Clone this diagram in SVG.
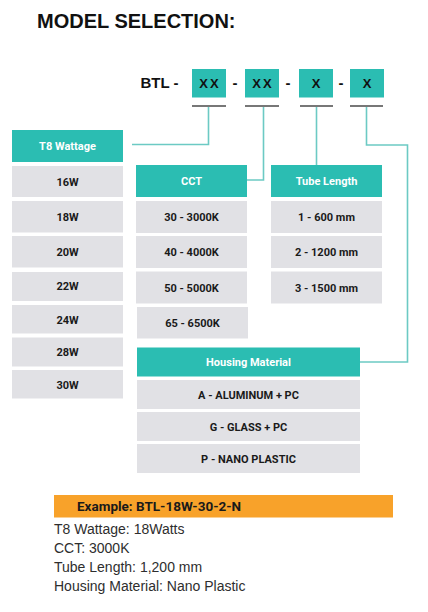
<svg xmlns="http://www.w3.org/2000/svg" width="428" height="612" viewBox="0 0 428 612">
<style>
.hd{fill:#2bbdb2}
.row{fill:#e1e1e5}
.ht{font-family:Roboto,"Liberation Sans",sans-serif;font-weight:700;font-size:11px;fill:#ffffff;text-anchor:middle}
.rt{font-family:Roboto,"Liberation Sans",sans-serif;font-weight:700;font-size:11px;fill:#1a1a1a;text-anchor:middle}
.code{font-family:"Liberation Sans",Arial,sans-serif;font-weight:700;font-size:13px;fill:#111;text-anchor:middle;letter-spacing:2px}
.conn{fill:none;stroke:#6ccac4;stroke-width:1.6}
.ul{stroke:#4a4a4a;stroke-width:1.6}
.ex{font-family:"Liberation Sans",Arial,sans-serif;font-size:14px;fill:#2e2e2e}
</style>
<rect width="428" height="612" fill="#ffffff"/>
<text x="37" y="28" font-family="Liberation Sans,Arial,sans-serif" font-weight="700" font-size="20" fill="#111">MODEL SELECTION:</text>

<g id="code">
<text x="140.5" y="88" font-family="Liberation Sans,Arial,sans-serif" font-weight="700" font-size="15" fill="#111">BTL -</text>
<rect class="hd" x="192" y="69" width="34" height="28.5"/>
<text class="code" x="210" y="88">XX</text>
<text x="235" y="88" font-family="Liberation Sans,Arial,sans-serif" font-weight="700" font-size="15" fill="#111" text-anchor="middle">-</text>
<rect class="hd" x="245" y="69" width="34" height="28.5"/>
<text class="code" x="263" y="88">XX</text>
<text x="288" y="88" font-family="Liberation Sans,Arial,sans-serif" font-weight="700" font-size="15" fill="#111" text-anchor="middle">-</text>
<rect class="hd" x="299" y="69" width="34" height="28.5"/>
<text class="code" x="317" y="88">X</text>
<text x="341" y="88" font-family="Liberation Sans,Arial,sans-serif" font-weight="700" font-size="15" fill="#111" text-anchor="middle">-</text>
<rect class="hd" x="350" y="69" width="34" height="28.5"/>
<text class="code" x="368" y="88">X</text>
<line class="ul" x1="192" y1="106" x2="226" y2="106"/>
<line class="ul" x1="245" y1="106" x2="279" y2="106"/>
<line class="ul" x1="300" y1="106" x2="333" y2="106"/>
<line class="ul" x1="350" y1="106" x2="383" y2="106"/>
</g>

<g id="connectors">
<polyline class="conn" points="208.5,107 208.5,144.5 132,144.5"/>
<polyline class="conn" points="263.5,107 263.5,180 247,180"/>
<polyline class="conn" points="316.5,107 316.5,165"/>
<polyline class="conn" points="366.5,107 366.5,145 407.5,145 407.5,362 360,362"/>
</g>

<g id="t8-wattage">
<rect class="hd" x="12" y="130" width="111" height="32"/>
<text class="ht" x="67.5" y="150">T8 Wattage</text>
<rect class="row" x="12" y="166" width="111" height="31"/><text class="rt" x="67.5" y="185.5">16W</text>
<rect class="row" x="12" y="201" width="111" height="31.5"/><text class="rt" x="67.5" y="220.5">18W</text>
<rect class="row" x="12" y="236" width="111" height="31.5"/><text class="rt" x="67.5" y="255.5">20W</text>
<rect class="row" x="12" y="272" width="111" height="29"/><text class="rt" x="67.5" y="290">22W</text>
<rect class="row" x="12" y="305" width="111" height="28.5"/><text class="rt" x="67.5" y="323.5">24W</text>
<rect class="row" x="12" y="337.5" width="111" height="29"/><text class="rt" x="67.5" y="355.5">28W</text>
<rect class="row" x="12" y="370" width="111" height="28.5"/><text class="rt" x="67.5" y="388.5">30W</text>
</g>

<g id="cct">
<rect class="hd" x="136" y="165" width="111" height="32"/>
<text class="ht" x="191.5" y="185">CCT</text>
<rect class="row" x="136" y="201" width="111" height="32"/><text class="rt" x="191.5" y="221">30 - 3000K</text>
<rect class="row" x="136" y="236" width="111" height="32"/><text class="rt" x="191.5" y="256">40 - 4000K</text>
<rect class="row" x="136" y="271.5" width="111" height="32"/><text class="rt" x="191.5" y="291.5">50 - 5000K</text>
<rect class="row" x="137" y="307" width="111" height="31.5"/><text class="rt" x="192.5" y="327">65 - 6500K</text>
</g>

<g id="tube-length">
<rect class="hd" x="271" y="165" width="111" height="32"/>
<text class="ht" x="326.5" y="185">Tube Length</text>
<rect class="row" x="271" y="201" width="111" height="32"/><text class="rt" x="326.5" y="221">1 - 600 mm</text>
<rect class="row" x="271" y="236" width="111" height="32"/><text class="rt" x="326.5" y="256">2 - 1200 mm</text>
<rect class="row" x="271" y="271.5" width="111" height="32"/><text class="rt" x="326.5" y="291.5">3 - 1500 mm</text>
</g>

<g id="housing-material">
<rect class="hd" x="137" y="347.5" width="223" height="29"/>
<text class="ht" x="248.5" y="366">Housing Material</text>
<rect class="row" x="137" y="380" width="223" height="29"/><text class="rt" x="248.5" y="398.5">A - ALUMINUM + PC</text>
<rect class="row" x="137" y="412" width="223" height="29"/><text class="rt" x="248.5" y="430.5">G - GLASS + PC</text>
<rect class="row" x="137" y="444" width="223" height="29"/><text class="rt" x="248.5" y="462.5">P - NANO PLASTIC</text>
</g>

<g id="example">
<rect x="54" y="495" width="339" height="22.5" fill="#f8a22a"/>
<text x="77" y="511" font-family="Roboto,'Liberation Sans',sans-serif" font-weight="700" font-size="13.5" fill="#1a1a1a">Example: BTL-18W-30-2-N</text>
<text class="ex" x="54" y="534">T8 Wattage: 18Watts</text>
<text class="ex" x="54" y="553">CCT: 3000K</text>
<text class="ex" x="54" y="572">Tube Length: 1,200 mm</text>
<text class="ex" x="54" y="591">Housing Material: Nano Plastic</text>
</g>
</svg>
